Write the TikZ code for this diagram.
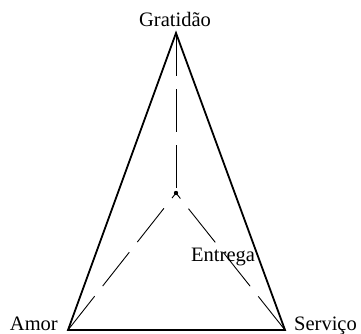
\documentclass[tikz,border=0pt]{standalone}
\usepackage{fontspec}
\setmainfont{Liberation Serif}
\begin{document}
\begin{tikzpicture}[x=1pt,y=-1pt,
  lbl/.style={inner sep=0pt,font=\fontsize{20.5}{24}\selectfont},
  side/.style={line width=1.8pt,line join=miter},
  spoke/.style={line width=0.9pt,dash pattern=on 43pt off 13pt}]
\useasboundingbox (0,0) rectangle (361,333);
\coordinate (G) at (176,33);
\coordinate (A) at (68,330);
\coordinate (S) at (285,330);
\coordinate (C) at (176,193);
\draw[side] (A) -- (G) -- (S) -- cycle;
\draw[spoke] (G) -- (C);
\draw[spoke] (A) -- (C);
\draw[spoke] (S) -- (C);
\fill (C) circle (2.2pt);
\node[lbl,anchor=base] (tG) at (175,26) {Gratidão};
\node[lbl,anchor=base east] (tA) at (58,330) {Amor};
\node[lbl,anchor=base west] (tS) at (294,330) {Serviço};
\node[lbl,anchor=base west] (tE) at (191,261) {Entrega};
\end{tikzpicture}
\end{document}
